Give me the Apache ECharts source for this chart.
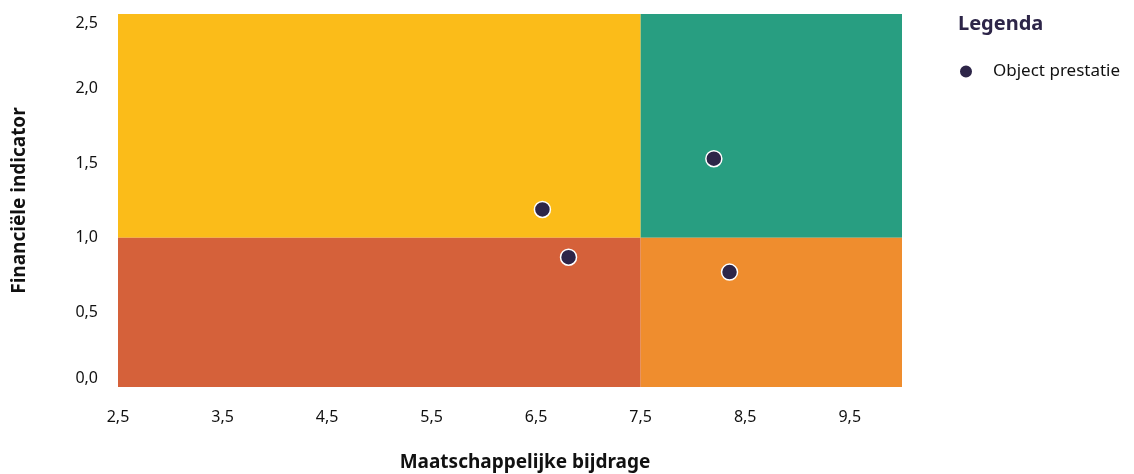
<!DOCTYPE html>
<html>
<head>
<meta charset="utf-8">
<script src="https://cdn.jsdelivr.net/npm/echarts@6/dist/echarts.min.js"></script>
<style>
  html, body { margin: 0; padding: 0; background: #fff; }
  #chart { width: 1134px; height: 474px; }
</style>
</head>
<body>
<div id="chart"></div>
<script>
// ---- data ----
const seriesName = 'Object prestatie';
const points = [
  [8.20, 1.53],
  [6.56, 1.19],
  [6.81, 0.87],
  [8.35, 0.77]
];
// quadrant bounds: [xFrom, yFrom, xTo, yTo]
const quadrants = [
  [2.5, 1.0, 7.5, 2.5],
  [7.5, 1.0, 10.0, 2.5],
  [2.5, 0.0, 7.5, 1.0],
  [7.5, 0.0, 10.0, 1.0]
];
const xTicks = [2.5, 3.5, 4.5, 5.5, 6.5, 7.5, 8.5, 9.5];
const yTicks = [0.0, 0.5, 1.0, 1.5, 2.0, 2.5];
const xTitle = 'Maatschappelijke bijdrage';
const yTitle = 'Financiële indicator';
const legendTitle = 'Legenda';

// ---- styles ----
const quadrantColors = ['#FBBC19', '#289E81', '#D5613A', '#EF8D2E'];
const markerColor = '#2D2548';
const fontFamily = '"Noto Sans", "Open Sans", sans-serif';

function fmt(v) { return v.toFixed(1).replace('.', ','); }
function isTick(list, v) { return list.some(t => Math.abs(t - v) < 1e-6); }

const chart = echarts.init(document.getElementById('chart'), null, { renderer: 'canvas' });
chart.setOption({
  animation: false,
  backgroundColor: '#ffffff',
  textStyle: { fontFamily: fontFamily },
  title: {
    text: legendTitle,
    left: 953,
    top: 9,
    textStyle: { fontFamily: fontFamily, fontSize: 20, fontWeight: 'bold', color: '#2D2548' }
  },
  legend: {
    data: [seriesName],
    left: 953,
    top: 58,
    icon: 'circle',
    itemWidth: 14,
    itemHeight: 14,
    textStyle: { fontFamily: fontFamily, fontSize: 17, color: '#111', padding: [0, 0, 0, 15] }
  },
  grid: { left: 118, right: 232, top: 14, bottom: 87, containLabel: false, outerBoundsMode: 'none' },
  xAxis: {
    type: 'value',
    min: 2.5,
    max: 10,
    interval: 0.5,
    name: xTitle,
    nameLocation: 'middle',
    nameGap: 66,
    nameTextStyle: { fontFamily: fontFamily, fontSize: 19, fontWeight: 'bold', color: '#111', padding: [0, 0, 0, 30] },
    axisLine: { show: false },
    axisTick: { show: false },
    splitLine: { show: false },
    axisLabel: {
      margin: 22,
      fontSize: 16,
      color: '#111',
      fontFamily: fontFamily,
      showMaxLabel: false,
      formatter: v => isTick(xTicks, v) ? fmt(v) : ''
    }
  },
  yAxis: {
    type: 'value',
    min: 0,
    max: 2.5,
    interval: 0.5,
    name: yTitle,
    nameLocation: 'middle',
    nameGap: 89,
    nameTextStyle: { fontFamily: fontFamily, fontSize: 19, fontWeight: 'bold', color: '#111' },
    axisLine: { show: false },
    axisTick: { show: false },
    splitLine: { show: false },
    axisLabel: {
      margin: 20,
      fontSize: 16,
      color: '#111',
      fontFamily: fontFamily,
      formatter: v => {
        if (!isTick(yTicks, v)) return '';
        if (Math.abs(v - yTicks[yTicks.length - 1]) < 1e-6) return '{t|' + fmt(v) + '}';
        if (Math.abs(v - yTicks[0]) < 1e-6) return '{b|' + fmt(v) + '}';
        return fmt(v);
      },
      rich: {
        t: { padding: [18, 0, 0, 0], fontSize: 16, color: '#111', fontFamily: fontFamily },
        b: { padding: [0, 0, 18, 0], fontSize: 16, color: '#111', fontFamily: fontFamily }
      }
    }
  },
  series: [
    {
      name: 'quadrants',
      type: 'scatter',
      data: [],
      z: 1,
      silent: true,
      markArea: {
        silent: true,
        data: quadrants.map((q, i) => [
          { coord: [q[0], q[1]], itemStyle: { color: quadrantColors[i], opacity: 1 } },
          { coord: [q[2], q[3]] }
        ])
      }
    },
    {
      name: seriesName,
      type: 'scatter',
      z: 5,
      symbol: 'circle',
      symbolSize: 16,
      itemStyle: { color: markerColor, borderColor: '#ffffff', borderWidth: 1.5, opacity: 1 },
      data: points
    }
  ]
});
</script>
</body>
</html>
